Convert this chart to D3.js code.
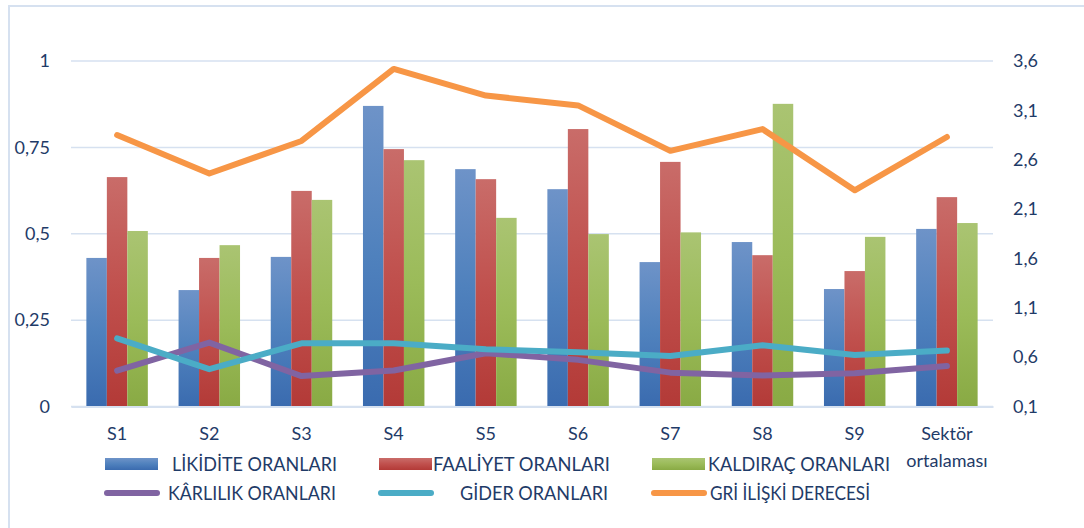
<!DOCTYPE html>
<html>
<head>
<meta charset="utf-8">
<script src="https://cdn.jsdelivr.net/npm/d3@7"></script>
<style>
  html, body { margin: 0; padding: 0; background: #fff; }
  svg { display: block; font-family: Lato, "Open Sans", sans-serif; }
</style>
</head>
<body>
<div id="chart"></div>
<script>
// categorias
const categorias = ["S1", "S2", "S3", "S4", "S5", "S6", "S7", "S8", "S9", "Sektör ortalaması"];

// barras (eixo esquerdo)
const likidite  = [0.430, 0.337, 0.433, 0.870, 0.687, 0.629, 0.418, 0.476, 0.340, 0.514];
const faaliyet  = [0.664, 0.430, 0.624, 0.745, 0.658, 0.803, 0.708, 0.438, 0.392, 0.606];
const kaldirac  = [0.508, 0.467, 0.598, 0.713, 0.546, 0.499, 0.504, 0.876, 0.491, 0.531];

// linhas
const karlilik  = [0.104, 0.185, 0.088, 0.104, 0.154, 0.135, 0.098, 0.090, 0.096, 0.117];
const gider     = [0.197, 0.108, 0.183, 0.183, 0.166, 0.157, 0.146, 0.177, 0.149, 0.162];
const griIliski = [2.85, 2.46, 2.79, 3.52, 3.25, 3.15, 2.69, 2.91, 2.29, 2.83]; // eixo direito

// ticks
const ticksEsq = [0, 0.25, 0.5, 0.75, 1];
const ticksDir = [0.1, 0.6, 1.1, 1.6, 2.1, 2.6, 3.1, 3.6];

const W = 1084, H = 528;
const plot = { left: 71, right: 993, top: 61, bottom: 406.5 };
const corTexto = "#1f3b68";
const fmt = v => String(v).replace(".", ",");

const svg = d3.select("#chart").append("svg")
    .attr("width", W).attr("height", H);

// gradientes das barras
const defs = svg.append("defs");
const barSeries = [
  { nome: "LİKİDİTE ORANLARI", valores: likidite, id: "gBlue",  stops: ["#6e93c8", "#4f81bd", "#3a6baf"] },
  { nome: "FAALİYET ORANLARI", valores: faaliyet, id: "gRed",   stops: ["#c96c69", "#c0504d", "#b33a37"] },
  { nome: "KALDIRAÇ ORANLARI", valores: kaldirac, id: "gGreen", stops: ["#aac472", "#9bbb59", "#89aa44"] }
];
barSeries.forEach(s => {
  const g = defs.append("linearGradient").attr("id", s.id)
      .attr("x1", 0).attr("y1", 0).attr("x2", 0).attr("y2", 1);
  g.append("stop").attr("offset", "0%").attr("stop-color", s.stops[0]);
  g.append("stop").attr("offset", "50%").attr("stop-color", s.stops[1]);
  g.append("stop").attr("offset", "100%").attr("stop-color", s.stops[2]);
});

// borda do gráfico
svg.append("rect")
    .attr("x", 9).attr("y", 6).attr("width", W + 20).attr("height", H + 20)
    .attr("fill", "none").attr("stroke", "#d6e1f0").attr("stroke-width", 2);

// Escalas
const x = d3.scaleBand().domain(categorias).range([plot.left, plot.right]).paddingInner(0).paddingOuter(0);
const x1 = d3.scaleBand().domain(barSeries.map(s => s.nome))
    .range([0, x.bandwidth()]).paddingInner(0).paddingOuter(0.75);
const yL = d3.scaleLinear().domain([0, 1]).range([plot.bottom, plot.top]);
const yR = d3.scaleLinear().domain([0.1, 3.6]).range([plot.bottom, plot.top]);

// grade
svg.append("g").selectAll("line").data(ticksEsq).join("line")
    .attr("x1", plot.left).attr("x2", plot.right)
    .attr("y1", d => yL(d)).attr("y2", d => yL(d))
    .attr("stroke", "#d6e1f0").attr("stroke-width", 1.5);

// Eixo esquerdo
const axL = svg.append("g").attr("transform", `translate(${plot.left},0)`)
    .call(d3.axisLeft(yL).tickValues(ticksEsq).tickFormat(fmt).tickSize(0).tickPadding(21));
axL.select(".domain").remove();
axL.selectAll("text").attr("fill", corTexto).style("font-size", "18px").attr("font-family", "Lato");

// Eixo direito
const axR = svg.append("g").attr("transform", `translate(${plot.right},0)`)
    .call(d3.axisRight(yR).tickValues(ticksDir).tickFormat(fmt).tickSize(0).tickPadding(20));
axR.select(".domain").remove();
axR.selectAll("text").attr("fill", corTexto).style("font-size", "18px").attr("font-family", "Lato");

// Barras
barSeries.forEach(s => {
  svg.append("g").selectAll("rect").data(categorias).join("rect")
      .attr("x", (c) => x(c) + x1(s.nome))
      .attr("width", x1.bandwidth())
      .attr("y", (c, i) => yL(s.valores[i]))
      .attr("height", (c, i) => yL(0) - yL(s.valores[i]))
      .attr("fill", `url(#${s.id})`);
});

// Eixo X
const axX = svg.append("g").attr("transform", `translate(0,${plot.bottom})`)
    .call(d3.axisBottom(x).tickSize(0).tickPadding(21));
axX.select(".domain").attr("stroke", "#d6e1f0").attr("stroke-width", 2);
axX.selectAll("text").attr("fill", corTexto).style("font-size", "18px").attr("font-family", "Lato")
  .each(function(d) {
    const t = d3.select(this);
    const palavras = d.split(" ");
    if (palavras.length > 1) {
      t.text(null);
      palavras.forEach((p, k) => t.append("tspan").attr("x", 0).attr("dy", k === 0 ? "0.71em" : "1.5em").text(p));
      t.attr("dy", null);
    }
  });

// Linhas
const lineSeries = [
  { nome: "KÂRLILIK ORANLARI",   valores: karlilik,  y: yL, cor: "#8064a2" },
  { nome: "GİDER ORANLARI",      valores: gider,     y: yL, cor: "#4bacc6" },
  { nome: "GRİ İLİŞKİ DERECESİ", valores: griIliski, y: yR, cor: "#f79646" }
];
lineSeries.forEach(s => {
  const linha = d3.line()
      .x((v, i) => x(categorias[i]) + x.bandwidth() / 2)
      .y(v => s.y(v));
  svg.append("path").datum(s.valores)
      .attr("d", linha)
      .attr("fill", "none").attr("stroke", s.cor)
      .attr("stroke-width", 6).attr("stroke-linejoin", "round").attr("stroke-linecap", "round");
});

// Legenda
const colunas = [105, 379, 652];
const textoX = [172, 433, 708, 168, 460, 710];
const textoW = [165, 177, 182, 168, 148, 160];
const legenda = [
  ...barSeries.map(s => ({ nome: s.nome, tipo: "bar", fill: `url(#${s.id})` })),
  ...lineSeries.map(s => ({ nome: s.nome, tipo: "line", cor: s.cor }))
];
const leg = svg.append("g");
legenda.forEach((d, i) => {
  const col = i % 3, row = Math.floor(i / 3);
  const cy = row === 0 ? 464 : 493;
  if (d.tipo === "bar") {
    leg.append("rect").attr("x", colunas[col]).attr("y", cy - 6).attr("width", 53).attr("height", 12)
        .attr("fill", d.fill);
  } else {
    leg.append("line").attr("x1", colunas[col] + 2).attr("x2", colunas[col] + 52)
        .attr("y1", cy).attr("y2", cy)
        .attr("stroke", d.cor).attr("stroke-width", 6).attr("stroke-linecap", "round");
  }
  leg.append("text").attr("x", textoX[i]).attr("y", cy + 7)
      .attr("fill", corTexto).style("font-size", "19px").attr("font-family", "Lato")
      .attr("textLength", textoW[i]).attr("lengthAdjust", "spacingAndGlyphs")
      .text(d.nome);
});
</script>
</body>
</html>
